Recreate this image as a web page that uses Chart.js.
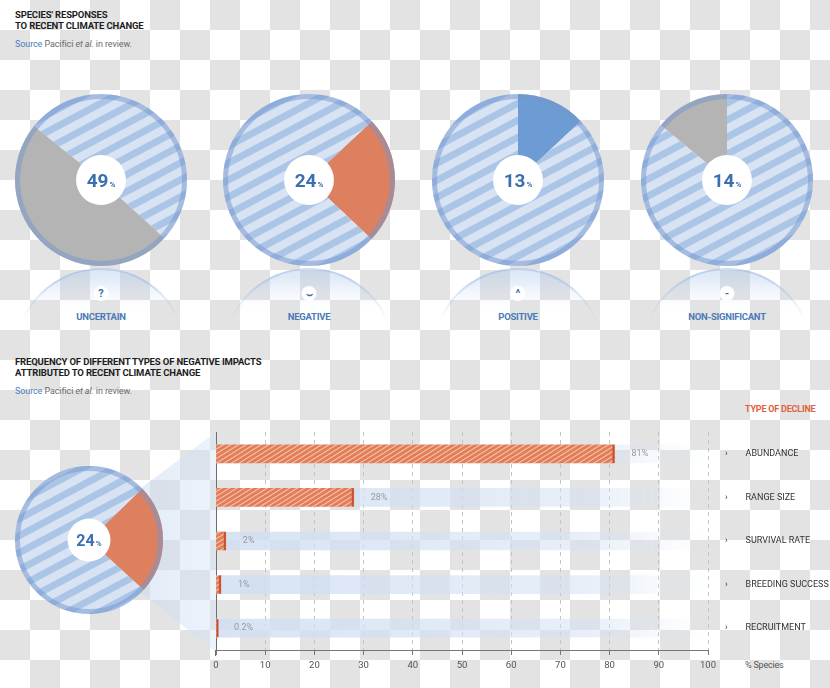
<!DOCTYPE html>
<html>
<head>
<meta charset="utf-8">
<script src="https://cdn.jsdelivr.net/npm/chart.js@4.4.1/dist/chart.umd.min.js"></script>
<style>
  html, body { margin: 0; padding: 0; }
  body {
    width: 830px; height: 688px; position: relative; overflow: hidden;
    background: repeating-conic-gradient(#e3e3e3 0 25%, #fff 0 50%) 0 0 / 60px 60px;
    font-family: Roboto, "Noto Sans", sans-serif;
  }
  .abs { position: absolute; }
  .title { font-weight: 700; font-size: 9.5px; line-height: 11px; color: #1d1d1d; letter-spacing: -0.15px; }
  .src { font-size: 9px; color: #6b6b6b; letter-spacing: -0.1px; }
  .src span { color: #4a80c0; }
  .refl {
    width: 172px; height: 62px; overflow: hidden; top: 268px;
    -webkit-mask-image: linear-gradient(#000 20%, transparent 85%);
    mask-image: linear-gradient(#000 20%, transparent 85%);
  }
  .refl div {
    width: 168px; height: 168px; border-radius: 50%;
    border: 2px solid rgba(160, 188, 225, 0.5);
    background: linear-gradient(rgba(175, 200, 235, 0.45), rgba(225, 235, 248, 0.18) 22%, rgba(255,255,255,0) 38%);
  }
  .sym {
    width: 15px; height: 15px; border-radius: 50%; background: rgba(255,255,255,0.95);
    top: 286px; color: #3a6fb0; font-weight: 700; font-size: 11px; line-height: 15px; text-align: center;
    transform: translateX(-50%);
  }
  .lab { top: 311px; transform: translateX(-50%); color: #4a7ab8; font-weight: 700; font-size: 9.5px; letter-spacing: -0.25px; white-space: nowrap; }
</style>
</head>
<body>
<div class="abs title" style="left:15px;top:9px">SPECIES' RESPONSES<br>TO RECENT CLIMATE CHANGE</div>
<div class="abs src" style="left:15px;top:39px"><span>Source</span> Pacifici <i>et al.</i> in review.</div>

<div class="abs title" style="left:15px;top:356px">FREQUENCY OF DIFFERENT TYPES OF NEGATIVE IMPACTS<br>ATTRIBUTED TO RECENT CLIMATE CHANGE</div>
<div class="abs src" style="left:15px;top:386px"><span>Source</span> Pacifici <i>et al.</i> in review.</div>

<div class="abs" style="left:745px;top:404px;color:#e0603f;font-weight:700;font-size:9px;letter-spacing:-0.2px">TYPE OF DECLINE</div>
<div class="abs" style="left:745px;top:660px;color:#555;font-size:9px;letter-spacing:-0.2px">% Species</div>

<div id="reflections"></div>

<canvas id="bars" class="abs" width="830" height="293" style="left:0;top:395px"></canvas>
<canvas id="pie0" class="abs" width="172" height="172" style="left:15px;top:94px"></canvas>
<canvas id="pie1" class="abs" width="172" height="172" style="left:223px;top:94px"></canvas>
<canvas id="pie2" class="abs" width="172" height="172" style="left:432px;top:94px"></canvas>
<canvas id="pie3" class="abs" width="172" height="172" style="left:641px;top:94px"></canvas>
<canvas id="pieNeg" class="abs" width="148" height="148" style="left:15px;top:466px"></canvas>

<script>
// --- data ---
const responseLabels = ['UNCERTAIN', 'NEGATIVE', 'POSITIVE', 'NON-SIGNIFICANT'];
const responseShares = [49, 24, 13, 14];
const responseSymbols = ['?', '\u2323', '^', '-'];
const negativeShare = 24;

const declineTypes = ['ABUNDANCE', 'RANGE SIZE', 'SURVIVAL RATE', 'BREEDING SUCCESS', 'RECRUITMENT'];
const declineShares = [81, 28, 2, 1, 0.2];
const trackMax = [100, 100, 100, 100, 100];

// --- patterns ---
function stripes() {
  const c = document.createElement('canvas');
  c.width = 4; c.height = 15;
  const x = c.getContext('2d');
  x.fillStyle = '#d7e3f3'; x.fillRect(0, 0, 4, 15);
  x.fillStyle = '#abc5e7'; x.fillRect(0, 0, 4, 7);
  const p = x.createPattern(c, 'repeat');
  p.setTransform(new DOMMatrix().rotate(-28));
  return p;
}

function hatch() {
  const c = document.createElement('canvas');
  c.width = 4; c.height = 4;
  const x = c.getContext('2d');
  x.fillStyle = '#e27d58'; x.fillRect(0, 0, 4, 4);
  x.fillStyle = 'rgba(255, 225, 210, 0.75)'; x.fillRect(0, 0, 4, 1);
  const p = x.createPattern(c, 'repeat');
  p.setTransform(new DOMMatrix().rotate(-32));
  return p;
}

// white center + value, blue rim
const pieDecor = {
  id: 'pieDecor',
  afterDatasetsDraw(chart, args, opts) {
    const arc = chart.getDatasetMeta(0).data[0];
    const ctx = chart.ctx;
    const cx = arc.x, cy = arc.y, r = arc.outerRadius;
    ctx.save();
    ctx.beginPath();
    ctx.arc(cx, cy, r - 2.5, 0, Math.PI * 2);
    ctx.lineWidth = 5;
    ctx.strokeStyle = 'rgba(115, 150, 205, 0.5)';
    ctx.stroke();
    ctx.beginPath();
    ctx.arc(cx, cy, r * 0.29, 0, Math.PI * 2);
    ctx.fillStyle = '#fff';
    ctx.fill();
    const big = Math.round(r * 0.22) + 'px';
    ctx.fillStyle = '#3a6fb0';
    ctx.textBaseline = 'alphabetic';
    ctx.font = '700 ' + big + ' Roboto';
    const num = String(opts.value);
    const w1 = ctx.measureText(num).width;
    ctx.font = '700 8px Roboto';
    const w2 = ctx.measureText('%').width;
    const x0 = cx - (w1 + w2 + 1) / 2;
    const base = cy + r * 0.08;
    ctx.font = '700 ' + big + ' Roboto';
    ctx.fillText(num, x0, base);
    ctx.font = '700 8px Roboto';
    ctx.fillText('%', x0 + w1 + 1, base);
    ctx.restore();
  }
};

function makePie(id, share, color, rotation) {
  new Chart(document.getElementById(id), {
    type: 'doughnut',
    data: {
      labels: ['share', 'rest'],
      datasets: [{
        data: [share, 100 - share],
        backgroundColor: [color, stripes()],
        borderWidth: 0,
        hoverOffset: 0,
      }],
    },
    options: {
      responsive: false,
      animation: false,
      events: [],
      cutout: 0,
      rotation: rotation,
      plugins: { legend: { display: false }, tooltip: { enabled: false }, pieDecor: { value: share } },
    },
    plugins: [pieDecor],
  });
}

const sliceColors = ['#b4b4b4', '#dc8060', '#6c9cd3', '#b4b4b4'];
const sliceRotation = [132.5, 47, 0, -50.4];
const pieCenters = [101, 309, 518, 727];

responseShares.forEach((s, i) => makePie('pie' + i, s, sliceColors[i], sliceRotation[i]));
makePie('pieNeg', negativeShare, '#dc8060', 46);

// reflections, symbols and category names under the pies
const refl = document.getElementById('reflections');
pieCenters.forEach((cx, i) => {
  refl.insertAdjacentHTML('beforeend',
    `<div class="abs refl" style="left:${cx - 86}px"><div></div></div>` +
    `<div class="abs sym" style="left:${cx}px">${responseSymbols[i]}</div>` +
    `<div class="abs lab" style="left:${cx}px">${responseLabels[i]}</div>`);
});

// --- bar chart ---
const zoomWedge = {
  id: 'zoomWedge',
  beforeDraw(chart) {
    const { ctx, chartArea } = chart;
    ctx.save();
    const g = ctx.createLinearGradient(90, 0, chartArea.left, 0);
    g.addColorStop(0, 'rgba(195, 212, 236, 0.6)');
    g.addColorStop(1, 'rgba(215, 228, 245, 0.45)');
    ctx.fillStyle = g;
    ctx.beginPath();
    ctx.moveTo(89, 527 - 395);
    ctx.lineTo(chartArea.left, chartArea.top);
    ctx.lineTo(chartArea.left, chartArea.bottom + 2);
    ctx.lineTo(89, 551 - 395);
    ctx.closePath();
    ctx.fill();
    ctx.restore();
  },
  afterDraw(chart) {
    const { ctx, chartArea } = chart;
    ctx.save();
    ctx.strokeStyle = '#6e6e6e';
    ctx.lineWidth = 1;
    ctx.beginPath();
    ctx.moveTo(chartArea.left - 0.5, chartArea.bottom);
    ctx.lineTo(chartArea.left - 0.5, chartArea.bottom + 6);
    ctx.stroke();
    ctx.restore();
  }
};

// red end cap and value text for each decline bar
const valueLabels = {
  id: 'valueLabels',
  afterDatasetsDraw(chart) {
    const meta = chart.getDatasetMeta(0);
    const ctx = chart.ctx;
    ctx.save();
    ctx.font = '9px Roboto';
    ctx.textBaseline = 'middle';
    meta.data.forEach((bar, i) => {
      ctx.fillStyle = '#c8502e';
      ctx.fillRect(Math.max(bar.x - 2, bar.base), bar.y - bar.height / 2, 2, bar.height);
      ctx.fillStyle = '#9a9a9a';
      ctx.fillText(declineShares[i] + '%', bar.x + 17, bar.y);
    });
    ctx.restore();
  }
};

const barCtx = document.getElementById('bars').getContext('2d');
const trackFill = barCtx.createLinearGradient(216, 0, 708, 0);
trackFill.addColorStop(0, 'rgba(208, 222, 242, 0.85)');
trackFill.addColorStop(0.75, 'rgba(212, 225, 243, 0.55)');
trackFill.addColorStop(1, 'rgba(220, 232, 246, 0)');

new Chart(barCtx, {
  type: 'bar',
  data: {
    labels: declineTypes,
    datasets: [
      {
        data: declineShares,
        backgroundColor: hatch(),
        borderWidth: 0,
        barThickness: 18,
        grouped: false,
        order: 0,
      },
      {
        data: trackMax,
        backgroundColor: trackFill,
        borderWidth: 0,
        barThickness: 18,
        grouped: false,
        order: 1,
      },
    ],
  },
  options: {
    indexAxis: 'y',
    responsive: false,
    animation: false,
    events: [],
    layout: { padding: { left: 216, top: 37, bottom: 8, right: 0 } },
    scales: {
      x: {
        min: 0,
        max: 100,
        afterFit: (axis) => { axis.height = 30; },
        grid: {
          color: '#c4c4c4',
          drawTicks: true,
          tickLength: 5,
          tickColor: '#777',
        },
        border: { display: true, color: '#777', width: 1, dash: [4, 4] },
        ticks: { stepSize: 10, color: '#555', padding: 5, font: { family: 'Roboto', size: 9.5 } },
      },
      y: {
        position: 'left',
        afterFit: (axis) => { axis.width = 0; },
        grid: { display: false },
        border: { display: true, color: '#6e6e6e', width: 1 },
        ticks: { display: false },
      },
      yRight: {
        type: 'category',
        position: 'right',
        afterFit: (axis) => { axis.width = 122; },
        grid: { display: false },
        border: { display: false },
        ticks: {
          padding: 9,
          color: '#333',
          font: { family: 'Roboto', size: 9 },
          callback: function (v, i) { return '\u203A        ' + declineTypes[i]; },
        },
      },
    },
    plugins: { legend: { display: false }, tooltip: { enabled: false } },
  },
  plugins: [zoomWedge, valueLabels],
});
</script>
</body>
</html>
